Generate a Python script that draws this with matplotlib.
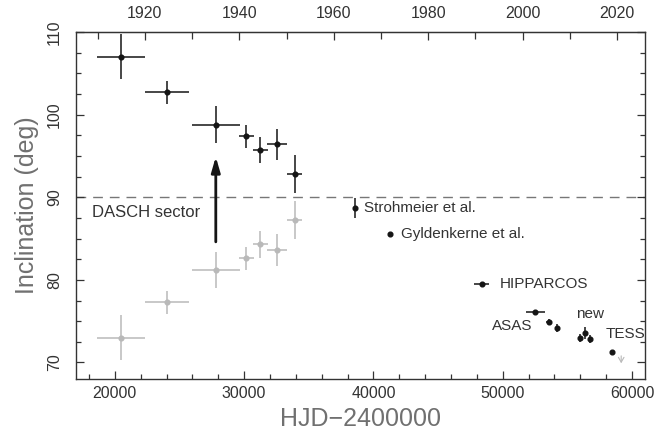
import matplotlib
matplotlib.use("Agg")
import matplotlib.pyplot as plt
from matplotlib.ticker import MultipleLocator, FixedLocator

plt.rcParams['font.family'] = ['Liberation Sans', 'DejaVu Sans']

# DASCH binned inclinations (front sector) and their mirrored solutions
dasch_hjd = [20490, 24030, 27810, 30170, 31250, 32530, 33900]
dasch_hjd_err = [1830, 1710, 1840, 580, 570, 770, 590]
dasch_inc = [107.0, 102.7, 98.8, 97.4, 95.7, 96.4, 92.8]
dasch_inc_err = [2.7, 1.4, 2.2, 1.4, 1.6, 1.9, 2.3]
mirror_inc = [73.0, 77.3, 81.2, 82.6, 84.3, 83.6, 87.2]
mirror_inc_err = [2.7, 1.4, 2.2, 1.4, 1.6, 1.9, 2.3]

# literature values
strohmeier = (38560, 88.7, 1.2)
gyldenkerne = (41310, 85.5)
hipparcos = (48360, 79.55, 580)
asas_hjd = [52510, 53570, 54190]
asas_hjd_err = [730, 260, 0]
asas_inc = [76.05, 74.9, 74.15]
asas_inc_err = [0.15, 0.35, 0.5]
new_hjd = [55990, 56330, 56740]
new_inc = [72.95, 73.6, 72.8]
new_inc_err = [0.45, 0.75, 0.5]
tess = (58480, 71.25)
tess_limit = (59160, 70.8, 69.9)

# arrow for the DASCH sector flip (from mirrored to adopted value)
flip_from, flip_to = 84.6, 94.9

# year ticks of the upper axis
year_ticks = [1910, 1920, 1930, 1940, 1950, 1960, 1970, 1980, 1990, 2000, 2010, 2020]
year_labels = [1920, 1940, 1960, 1980, 2000, 2020]

INK = '#151515'
GREY = '#b9b9b9'
TXT = '#333333'

fig = plt.figure(figsize=(6.61, 4.37), dpi=100)
ax = fig.add_axes([76/661, 58/437, 569/661, 347/437])

eb = dict(fmt='o', ms=3.4, lw=1.1, capsize=0)
ax.errorbar(dasch_hjd, mirror_inc, xerr=dasch_hjd_err, yerr=mirror_inc_err,
            color=GREY, mec=GREY, **eb)
ax.errorbar(dasch_hjd, dasch_inc, xerr=dasch_hjd_err, yerr=dasch_inc_err,
            color=INK, **eb)

ax.errorbar(strohmeier[0], strohmeier[1], yerr=strohmeier[2], color=INK, **eb)
ax.plot(gyldenkerne[0], gyldenkerne[1], 'o', ms=3.4, color=INK)
ax.errorbar(hipparcos[0], hipparcos[1], xerr=hipparcos[2], color=INK, **eb)
ax.errorbar(asas_hjd, asas_inc, xerr=asas_hjd_err, yerr=asas_inc_err,
            color=INK, **eb)
ax.errorbar(new_hjd, new_inc, yerr=new_inc_err, color=INK, **eb)
ax.plot(tess[0], tess[1], 'o', ms=3.4, color=INK)
ax.annotate('', xy=(tess_limit[0], tess_limit[2]), xytext=(tess_limit[0], tess_limit[1]),
            arrowprops=dict(arrowstyle='->,head_length=0.35,head_width=0.2',
                            color=GREY, lw=0.8, shrinkA=0, shrinkB=0))

ax.axhline(90, color='#777777', lw=1.0, ls=(0, (7, 5)), zorder=0)

ax.annotate('', xy=(dasch_hjd[2], flip_to), xytext=(dasch_hjd[2], flip_from),
            arrowprops=dict(arrowstyle='-|>,head_length=0.9,head_width=0.26',
                            color=INK, lw=2.0, shrinkA=0, shrinkB=0))

lab = dict(fontsize=11, color=TXT, va='center')
ax.text(18224, 88.1, 'DASCH sector', fontsize=12, color=TXT, va='center')
ax.text(39300, 88.74, 'Strohmeier et al.', **lab)
ax.text(42160, 85.53, 'Gyldenkerne et al.', **lab)
ax.text(49730, 79.55, 'HIPPARCOS', **lab)
ax.text(52280, 74.43, 'ASAS', ha='right', **lab)
ax.text(56720, 75.9, 'new', ha='center', **lab)
ax.text(57970, 73.39, 'TESS', **lab)

ax.set_xlim(17000, 61000)
ax.set_ylim(68, 110)
ax.xaxis.set_major_locator(MultipleLocator(10000))
ax.xaxis.set_minor_locator(MultipleLocator(2000))
ax.yaxis.set_major_locator(MultipleLocator(10))
ax.yaxis.set_minor_locator(MultipleLocator(2.5))

for s in ax.spines.values():
    s.set_color('#333333')
    s.set_linewidth(1.0)

ax.tick_params(which='both', direction='in', color='#333333', width=0.9,
               labelsize=11.5, labelcolor=TXT)
ax.tick_params(which='major', length=6)
ax.tick_params(which='minor', length=3.5)
ax.tick_params(axis='x', which='both', bottom=True, top=False, pad=5)
ax.tick_params(axis='y', which='both', left=True, right=True, pad=10)
for t in ax.get_yticklabels():
    t.set_rotation(90)
    t.set_va('center')
ax.get_yticklabels()[-1].set_va('bottom')


def hjd2year(x):
    return 2000.0 + (x - 51545.0) / 365.25


def year2hjd(y):
    return 51545.0 + (y - 2000.0) * 365.25


top = ax.secondary_xaxis('top', functions=(hjd2year, year2hjd))
top.xaxis.set_major_locator(FixedLocator(year_labels))
top.xaxis.set_minor_locator(FixedLocator([y for y in year_ticks if y not in year_labels]))
top.tick_params(which='both', direction='in', color='#333333', width=0.9,
                labelsize=11.5, labelcolor=TXT, pad=8)
top.tick_params(which='major', length=6)
top.tick_params(which='minor', length=5)
top.spines['top'].set_color('#333333')

ax.set_xlabel('HJD\u22122400000', fontsize=18, color='#707070', labelpad=4)
ax.set_ylabel('Inclination (deg)', fontsize=18, color='#707070', labelpad=6)

fig.savefig('out.png', dpi=100)
